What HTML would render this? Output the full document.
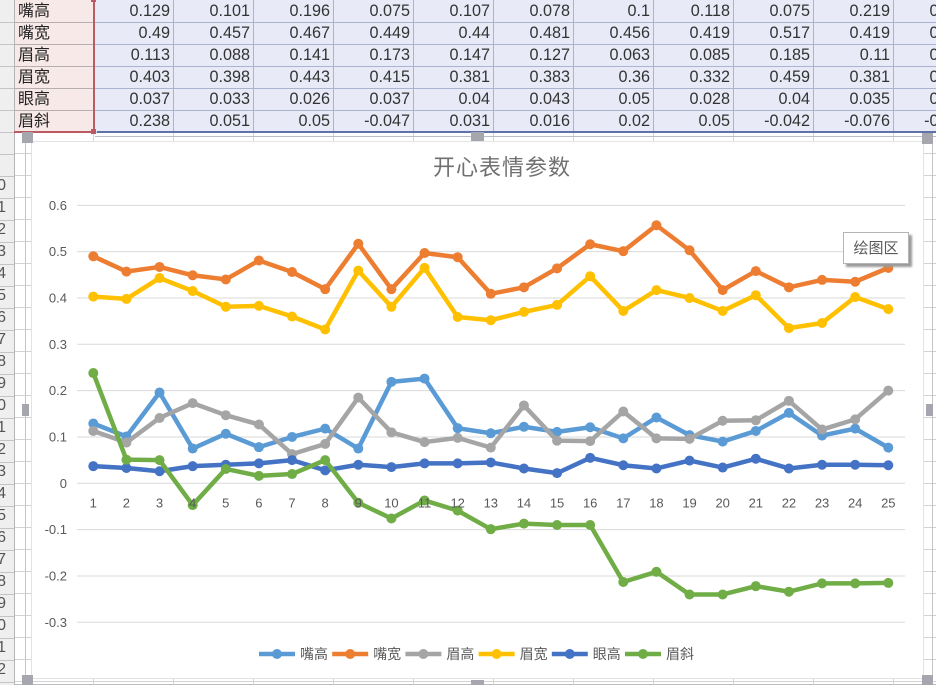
<!DOCTYPE html>
<html lang="zh">
<head>
<meta charset="utf-8">
<title>开心表情参数</title>
<style>
html,body{margin:0;padding:0;background:#fff;}
body{position:relative;width:936px;height:685px;overflow:hidden;font-family:"Liberation Sans","Noto Sans CJK SC",sans-serif;}
.abs{position:absolute;}
#gutter{left:0;top:0;width:14px;height:685px;background:repeating-linear-gradient(to bottom,#efefef 0,#efefef 21px,#c4c4c4 21px,#c4c4c4 22px);background-position:0 1px;overflow:hidden;border-right:1px solid #b5b5b5;box-sizing:content-box;}
#gutter div{position:absolute;right:8px;width:12px;height:22px;line-height:22px;font-size:16px;color:#555;text-align:right;}
#grid{left:15px;top:132px;width:921px;height:553px;background-color:#fff;background-image:repeating-linear-gradient(to bottom,transparent 0,transparent 21px,#d2d2d2 21px,#d2d2d2 22px),repeating-linear-gradient(to right,transparent 0,transparent 79px,#d6d6d6 79px,#d6d6d6 80px);background-position:0 0,-1px 0;}
#grid-top-line{left:95px;top:136px;width:841px;height:1px;background:#b9bcc9;}
#grid-left-line{left:25px;top:132px;width:1px;height:553px;background:#c4c4c4;}
#grid-right-line{left:932px;top:132px;width:1px;height:553px;background:#c4c4c4;}
#grid-bottom-line{left:14px;top:684px;width:922px;height:1px;background:#bdbdc4;}
#data-table{left:15px;top:0;border-collapse:separate;border-spacing:0;table-layout:fixed;width:959px;}
#data-table td{box-sizing:border-box;height:22px;padding:0 3px 0 0;font-size:16.2px;line-height:21px;vertical-align:top;text-align:right;color:#333;background:#e8ebf7;border-right:1px solid #aab3cf;border-bottom:1px solid #aab3cf;white-space:nowrap;overflow:hidden;}
#data-table tr:first-child td{height:23px;padding-top:1px;}
#data-table td.h{width:79px;text-align:left;padding-left:3px;padding-right:0;background:#f7e9e8;color:#222;border-right:0;border-bottom-color:#b7aeb0;font-family:"Liberation Sans","WenQuanYi Zen Hei","Noto Sans CJK SC",sans-serif;font-size:16px;}
#data-table td.v{width:80px;}
#sel-right{left:93px;top:0;width:2px;height:133px;background:#bb5a62;}
#sel-bottom{left:14px;top:131px;width:81px;height:2px;background:#bb5a62;}
#sel-handle{left:91px;top:129px;width:5px;height:5px;background:#bb5a62;}
#sel-handle-top{left:91px;top:0;width:5px;height:2px;background:#bb5a62;}
#blue-bottom{left:97px;top:131px;width:839px;height:2px;background:#5f73a8;}
.handle{position:absolute;background:#a5a6ae;}
#chart-box{left:32px;top:142px;width:891px;height:536px;background:#fff;box-shadow:0 0 0 1px #e3e3e3;}
#chart-svg{position:absolute;left:0;top:0;}
#tooltip{left:843px;top:232px;width:64px;height:30px;background:#fff;border:1px solid #b5b5b5;box-shadow:3px 3px 2px #9a9a9a;color:#595959;font-size:15px;line-height:31px;text-align:center;font-family:"Liberation Sans","Noto Sans CJK SC",sans-serif;}
</style>
</head>
<body>
<div id="grid" class="abs"></div>
<div id="grid-top-line" class="abs"></div>
<div id="grid-left-line" class="abs"></div>
<div id="grid-right-line" class="abs"></div>
<div id="grid-bottom-line" class="abs"></div>

<div id="gutter" class="abs">
<div style="top:175px">0</div>
<div style="top:197px">1</div>
<div style="top:219px">2</div>
<div style="top:241px">3</div>
<div style="top:263px">4</div>
<div style="top:285px">5</div>
<div style="top:307px">6</div>
<div style="top:329px">7</div>
<div style="top:351px">8</div>
<div style="top:373px">9</div>
<div style="top:395px">0</div>
<div style="top:417px">1</div>
<div style="top:439px">2</div>
<div style="top:461px">3</div>
<div style="top:483px">4</div>
<div style="top:505px">5</div>
<div style="top:527px">6</div>
<div style="top:549px">7</div>
<div style="top:571px">8</div>
<div style="top:593px">9</div>
<div style="top:615px">0</div>
<div style="top:637px">1</div>
<div style="top:659px">2</div>
</div>

<table id="data-table" class="abs">
<colgroup><col style="width:79px"><col span="11" style="width:80px"></colgroup>
<tbody>
<tr><td class="h">嘴高</td><td class="v">0.129</td><td class="v">0.101</td><td class="v">0.196</td><td class="v">0.075</td><td class="v">0.107</td><td class="v">0.078</td><td class="v">0.1</td><td class="v">0.118</td><td class="v">0.075</td><td class="v">0.219</td><td class="v">0.226</td></tr>
<tr><td class="h">嘴宽</td><td class="v">0.49</td><td class="v">0.457</td><td class="v">0.467</td><td class="v">0.449</td><td class="v">0.44</td><td class="v">0.481</td><td class="v">0.456</td><td class="v">0.419</td><td class="v">0.517</td><td class="v">0.419</td><td class="v">0.497</td></tr>
<tr><td class="h">眉高</td><td class="v">0.113</td><td class="v">0.088</td><td class="v">0.141</td><td class="v">0.173</td><td class="v">0.147</td><td class="v">0.127</td><td class="v">0.063</td><td class="v">0.085</td><td class="v">0.185</td><td class="v">0.11</td><td class="v">0.089</td></tr>
<tr><td class="h">眉宽</td><td class="v">0.403</td><td class="v">0.398</td><td class="v">0.443</td><td class="v">0.415</td><td class="v">0.381</td><td class="v">0.383</td><td class="v">0.36</td><td class="v">0.332</td><td class="v">0.459</td><td class="v">0.381</td><td class="v">0.465</td></tr>
<tr><td class="h">眼高</td><td class="v">0.037</td><td class="v">0.033</td><td class="v">0.026</td><td class="v">0.037</td><td class="v">0.04</td><td class="v">0.043</td><td class="v">0.05</td><td class="v">0.028</td><td class="v">0.04</td><td class="v">0.035</td><td class="v">0.043</td></tr>
<tr><td class="h">眉斜</td><td class="v">0.238</td><td class="v">0.051</td><td class="v">0.05</td><td class="v">-0.047</td><td class="v">0.031</td><td class="v">0.016</td><td class="v">0.02</td><td class="v">0.05</td><td class="v">-0.042</td><td class="v">-0.076</td><td class="v">-0.037</td></tr>
</tbody>
</table>

<div id="sel-right" class="abs"></div>
<div id="sel-bottom" class="abs"></div>
<div id="sel-handle" class="abs"></div>
<div id="sel-handle-top" class="abs"></div>
<div id="blue-bottom" class="abs"></div>

<div id="chart-box" class="abs">
<svg id="chart-svg" width="891" height="536" viewBox="32 142 891 536" xmlns="http://www.w3.org/2000/svg"></svg>
</div>

<div class="handle" style="left:22px;top:132px;width:11px;height:11px"></div>
<div class="handle" style="left:471px;top:132px;width:13px;height:9px"></div>
<div class="handle" style="left:922px;top:133px;width:11px;height:11px"></div>
<div class="handle" style="left:22px;top:404px;width:7px;height:12px"></div>
<div class="handle" style="left:926px;top:404px;width:7px;height:12px"></div>
<div class="handle" style="left:22px;top:675px;width:11px;height:10px"></div>
<div class="handle" style="left:471px;top:680px;width:13px;height:5px"></div>
<div class="handle" style="left:922px;top:675px;width:11px;height:10px"></div>

<div id="tooltip" class="abs">绘图区</div>

<script>
const categories = ["1","2","3","4","5","6","7","8","9","10","11","12","13","14","15","16","17","18","19","20","21","22","23","24","25"];
const yTicks = [0.6,0.5,0.4,0.3,0.2,0.1,0,-0.1,-0.2,-0.3];
const seriesNames = ["嘴高","嘴宽","眉高","眉宽","眼高","眉斜"];
const seriesColors = ["#5b9bd5","#ed7d31","#a5a5a5","#ffc000","#4472c4","#70ad47"];
const mouthHeight = [0.129,0.101,0.196,0.075,0.107,0.078,0.1,0.118,0.075,0.219,0.226,0.119,0.108,0.122,0.111,0.121,0.097,0.142,0.104,0.09,0.113,0.152,0.103,0.118,0.077];
const mouthWidth = [0.49,0.457,0.467,0.449,0.44,0.481,0.456,0.419,0.517,0.419,0.497,0.488,0.409,0.423,0.464,0.516,0.501,0.557,0.503,0.417,0.458,0.423,0.439,0.435,0.465];
const browHeight = [0.113,0.088,0.141,0.173,0.147,0.127,0.063,0.085,0.185,0.11,0.089,0.098,0.077,0.168,0.092,0.091,0.155,0.097,0.096,0.135,0.136,0.178,0.116,0.138,0.2];
const browWidth = [0.403,0.398,0.443,0.415,0.381,0.383,0.36,0.332,0.459,0.381,0.465,0.359,0.352,0.37,0.385,0.447,0.372,0.417,0.4,0.372,0.406,0.335,0.346,0.402,0.376];
const eyeHeight = [0.037,0.033,0.026,0.037,0.04,0.043,0.05,0.028,0.04,0.035,0.043,0.043,0.045,0.032,0.022,0.055,0.039,0.032,0.049,0.034,0.053,0.032,0.04,0.04,0.039];
const browSlope = [0.238,0.051,0.05,-0.047,0.031,0.016,0.02,0.05,-0.042,-0.076,-0.037,-0.059,-0.099,-0.087,-0.09,-0.09,-0.213,-0.191,-0.24,-0.24,-0.222,-0.234,-0.216,-0.216,-0.215];
const allSeries = [mouthHeight,mouthWidth,browHeight,browWidth,eyeHeight,browSlope];

const NS = "http://www.w3.org/2000/svg";
const svg = document.getElementById("chart-svg");
const FONT = '"Liberation Sans","Noto Sans CJK SC",sans-serif';
function xScale(i){ return 93.3 + i * (795 / 24); }
function yScale(v){ return 483.3 - v * 463.3; }
function make(tag, attrs){
  const el = document.createElementNS(NS, tag);
  for (const k in attrs) el.setAttribute(k, attrs[k]);
  return el;
}

const title = make("text", {x:502, y:175, "text-anchor":"middle", "font-size":22, "letter-spacing":1, fill:"#707070", "font-family":FONT});


title.textContent = "开心表情参数";
svg.appendChild(title);

yTicks.forEach(function(t){
  const y = yScale(t);
  const line = make("line", {x1:77, x2:905, y1:y, y2:y, stroke:"#d9d9d9", "stroke-width":1});
  
  
  svg.appendChild(line);
  const label = make("text", {x:67, y:y + 4.5, "text-anchor":"end", "font-size":13, fill:"#595959", "font-family":FONT});
  
  
  label.textContent = String(t);
  svg.appendChild(label);
});

allSeries.forEach(function(values, s){
  const group = make("g", {});
  
  
  const pts = values.map(function(v, i){ return xScale(i).toFixed(2) + "," + yScale(v).toFixed(2); }).join(" ");
  const poly = make("polyline", {points:pts, fill:"none", stroke:seriesColors[s], "stroke-width":4.5, "stroke-linejoin":"round", "stroke-linecap":"round"});
  
  
  group.appendChild(poly);
  values.forEach(function(v, i){
    const dot = make("circle", {cx:xScale(i), cy:yScale(v), r:5, fill:seriesColors[s]});
    
    
    group.appendChild(dot);
  });
  svg.appendChild(group);
});

categories.forEach(function(c, i){
  const label = make("text", {x:xScale(i), y:507.5, "text-anchor":"middle", "font-size":13, fill:"#595959", "font-family":FONT});
  
  
  label.textContent = c;
  svg.appendChild(label);
});

const legendStep = 73.2;
seriesNames.forEach(function(name, s){
  const x0 = 259 + s * legendStep;
  const entry = make("g", {});
  
  
  const key = make("line", {x1:x0, x2:x0 + 36, y1:654, y2:654, stroke:seriesColors[s], "stroke-width":4.5});
  
  
  entry.appendChild(key);
  const dot = make("circle", {cx:x0 + 18, cy:654, r:5, fill:seriesColors[s]});
  
  
  entry.appendChild(dot);
  const text = make("text", {x:x0 + 41, y:659, "font-size":14, fill:"#595959", "font-family":FONT});
  
  
  text.textContent = name;
  entry.appendChild(text);
  svg.appendChild(entry);
});
</script>
</body>
</html>
